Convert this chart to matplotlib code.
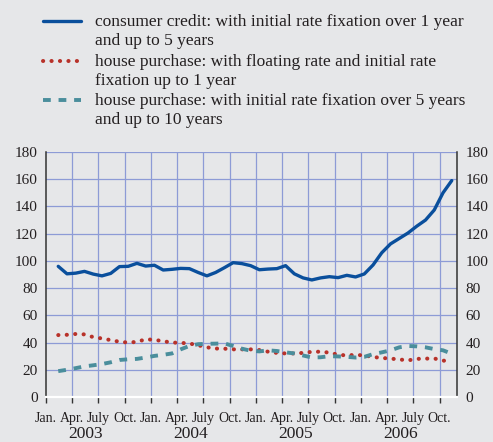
import numpy as np
import matplotlib
matplotlib.use("Agg")
import matplotlib.pyplot as plt
from matplotlib.lines import Line2D

# ---------------- data ----------------
consumer_1to5 = [96, 90.5, 91, 92.3, 90.3, 89, 90.8, 95.8, 96, 98.2, 96.2, 96.8,
                 93.3, 93.8, 94.5, 94.3, 91.5, 89, 91.5, 95, 98.7, 98, 96.5, 93.5,
                 94, 94.3, 96.5, 90.5, 87.5, 86, 87.5, 88.4, 87.7, 89.4, 88.2, 90.4,
                 97, 106, 112.5, 116.5, 120.5, 125.5, 130, 137.4, 150, 159]
house_floating = [45.5, 45.7, 46.3, 46, 44, 43, 41.8, 40.6, 40, 40.5, 42.4, 42,
                  41, 40, 39.8, 39.3, 38, 36.5, 35.6, 35.5, 35, 35, 35, 34.5,
                  33.3, 32.4, 32, 32, 32.4, 33.2, 33.3, 32.6, 31.1, 30.5, 31, 30.5,
                  29.4, 28.7, 28.2, 27.6, 26.9, 28, 28.2, 28.3, 26.8, 25.7]
house_5to10 = [19, 20, 21.2, 22.5, 23.3, 24.2, 25.5, 27.2, 27.7, 28, 29, 30.2,
               31, 32, 35, 37.5, 38.8, 39.1, 39.2, 39.4, 37.5, 35.5, 34, 33.5,
               34.3, 33.8, 32.8, 32, 30.5, 29, 29.2, 30, 29.8, 29.5, 29, 29.5,
               31.5, 32.8, 34.3, 36.5, 37.5, 37.2, 36.5, 35.2, 34.3, 31.8]

series_labels = [
    "consumer credit: with initial rate fixation over 1 year\nand up to 5 years",
    "house purchase: with floating rate and initial rate\nfixation up to 1 year",
    "house purchase: with initial rate fixation over 5 years\nand up to 10 years",
]
month_labels = ["Jan.", "Apr.", "July", "Oct."]
years = ["2003", "2004", "2005", "2006"]
y_ticks = [0, 20, 40, 60, 80, 100, 120, 140, 160, 180]

# ---------------- style ----------------
BG = "#e6e7e9"
GRID = "#8d9bd6"
TXT = "#231f20"
BLUE = "#0a4f9c"
RED = "#b8322a"
TEAL = "#4a8e9c"
FONT = "Liberation Serif"
plt.rcParams["font.family"] = [FONT, "DejaVu Serif"]

fig = plt.figure(figsize=(4.93, 4.42), dpi=100, facecolor=BG)
ax = fig.add_axes([46 / 493, 1 - 397 / 442, (457 - 46) / 493, (397 - 152) / 442])
ax.set_facecolor(BG)

n = len(consumer_1to5)
x = np.arange(1, n + 1) + 0.4  # monthly observations, months counted from Jan. 2003

styles = [
    dict(color=BLUE, lw=2.4, ls="-", solid_capstyle="round", solid_joinstyle="round"),
    dict(color=RED, lw=2.9, ls=(0, (0.05, 2.05)), dash_capstyle="round"),
    dict(color=TEAL, lw=2.8, ls=(0, (2.0, 2.0)), dash_capstyle="butt"),
]
for vals, st in zip([consumer_1to5, house_floating, house_5to10], styles):
    ax.plot(x, vals, zorder=3, **st)

ax.set_xlim(0, 47)
ax.set_ylim(0, 180)

# grid
for m in range(3, 47, 3):
    ax.axvline(m, color=GRID, lw=0.9, zorder=1)
for v in y_ticks[1:]:
    ax.axhline(v, color=GRID, lw=0.9, zorder=1)

# spines
ax.spines["top"].set_visible(False)
for s in ("left", "right"):
    ax.spines[s].set_color("#333333")
    ax.spines[s].set_linewidth(1.1)
ax.spines["bottom"].set_color("white")
ax.spines["bottom"].set_linewidth(1.6)
ax.spines["bottom"].set_zorder(4)

# y ticks both sides
ax.set_yticks(y_ticks)
ax.set_yticklabels([str(v) for v in y_ticks])
ax.tick_params(axis="y", which="both", length=0, pad=6, labelsize=11,
               labelcolor=TXT, left=False, right=False, labelleft=True, labelright=True)

# x ticks
xt = list(range(0, 46, 3))
ax.set_xticks(xt)
ax.set_xticklabels([month_labels[(m // 3) % 4] for m in xt])
ax.tick_params(axis="x", length=4, width=1.0, color="#333333", direction="out",
               pad=7, labelsize=10, labelcolor=TXT)
for lab in ax.get_xticklabels():
    lab.set_fontfamily(FONT)
for lab in ax.get_yticklabels():
    lab.set_fontfamily(FONT)

# year labels
for i, yr in enumerate(years):
    ax.text(4.5 + 12 * i, -0.152, yr, transform=ax.get_xaxis_transform(),
            ha="center", va="center", fontsize=12.5, color=TXT, family=FONT)

# legend (manual, handle aligned with first line of each label)
W, H = 493, 442
base_first = [26.5, 66.5, 105]
for lab, st, b in zip(series_labels, styles, base_first):
    yk = 1 - (b - 5.5) / H
    fig.add_artist(Line2D([43 / W, 81 / W], [yk, yk], transform=fig.transFigure, **st))
    lines = lab.split("\n")
    for k, line in enumerate(lines):
        fig.text(95 / W, 1 - (b + 18.5 * k) / H, line, ha="left", va="baseline",
                 fontsize=12.5, color=TXT, family=FONT)

fig.savefig("out.png", dpi=100, facecolor=BG)
